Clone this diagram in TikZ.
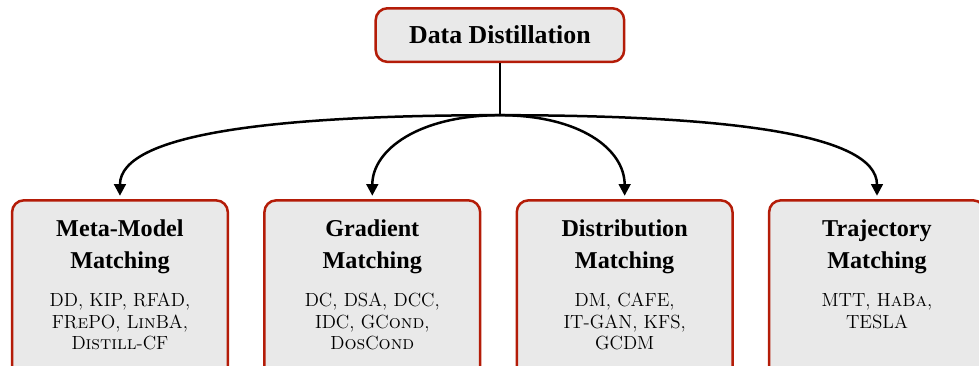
\documentclass[tikz,border=0pt]{standalone}
\usepackage{fontspec}
\setmainfont{Liberation Serif}
\usepackage{xcolor}
\usepackage{tikz}
\usetikzlibrary{positioning,arrows.meta}

\definecolor{ddred}{RGB}{180,28,8}
\definecolor{ddgray}{RGB}{233,233,233}
\newcommand{\ddtitle}{\fontsize{14.5}{19.2}\selectfont\bfseries}
\newcommand{\ddmethods}{\fontfamily{lmr}\fontsize{11.4}{12.9}\selectfont\mdseries}

\begin{document}
\begin{tikzpicture}[dd root/.style={rectangle, draw=ddred, line width=1.5pt, rounded corners=7pt, fill=ddgray, minimum width=5.24cm, minimum height=1.13cm, font=\fontsize{15.5}{17}\selectfont\bfseries},
                    dd branch/.style={rectangle, draw=ddred, line width=1.5pt, rounded corners=7pt, fill=ddgray, anchor=north, minimum width=4.55cm, inner ysep=11.5pt, text depth=3cm, align=center, font=\ddtitle},
                    dd arrow/.style={-{Triangle[length=7pt,width=7pt]}, line width=1.5pt, shorten >=2pt}]

    \useasboundingbox (0,0) rectangle (20.65,7.72);

    \node [dd root] (root) at (10.545,6.98) {Data Distillation};
    \coordinate (split) at (10.545,5.29);

    \node [dd branch] (meta) at (2.53,3.52) {Meta-Model\\Matching\\[3.8pt]\ddmethods DD, KIP, RFAD,\\[-6.3pt]\ddmethods FR\textsc{e}PO, L\textsc{in}BA,\\[-6.3pt]\ddmethods D\textsc{istill}-CF};
    \node [dd branch, right=0.72cm of meta.north east, anchor=north west] (grad) {Gradient\\Matching\\[3.8pt]\ddmethods DC, DSA, DCC,\\[-6.3pt]\ddmethods IDC, GC\textsc{ond},\\[-6.3pt]\ddmethods D\textsc{os}C\textsc{ond}};
    \node [dd branch, right=0.72cm of grad.north east, anchor=north west] (dist) {Distribution\\Matching\\[3.8pt]\ddmethods DM, CAFE,\\[-6.3pt]\ddmethods IT-GAN, KFS,\\[-6.3pt]\ddmethods GCDM};
    \node [dd branch, right=0.72cm of dist.north east, anchor=north west] (traj) {Trajectory\\Matching\\[3.8pt]\ddmethods MTT, H\textsc{a}B\textsc{a},\\[-6.3pt]\ddmethods TESLA};

    \draw [line width=1.5pt] (root.south) -- (split);
    \draw [dd arrow] (split) .. controls +(-4.64,0) and +(0,1.4) .. (meta.north);
    \draw [dd arrow] (split) .. controls +(-1.69,0) and +(0,1.05) .. (grad.north);
    \draw [dd arrow] (split) .. controls +(1.69,0) and +(0,1.05) .. (dist.north);
    \draw [dd arrow] (split) .. controls +(4.64,0) and +(0,1.4) .. (traj.north);

\end{tikzpicture}
\end{document}
